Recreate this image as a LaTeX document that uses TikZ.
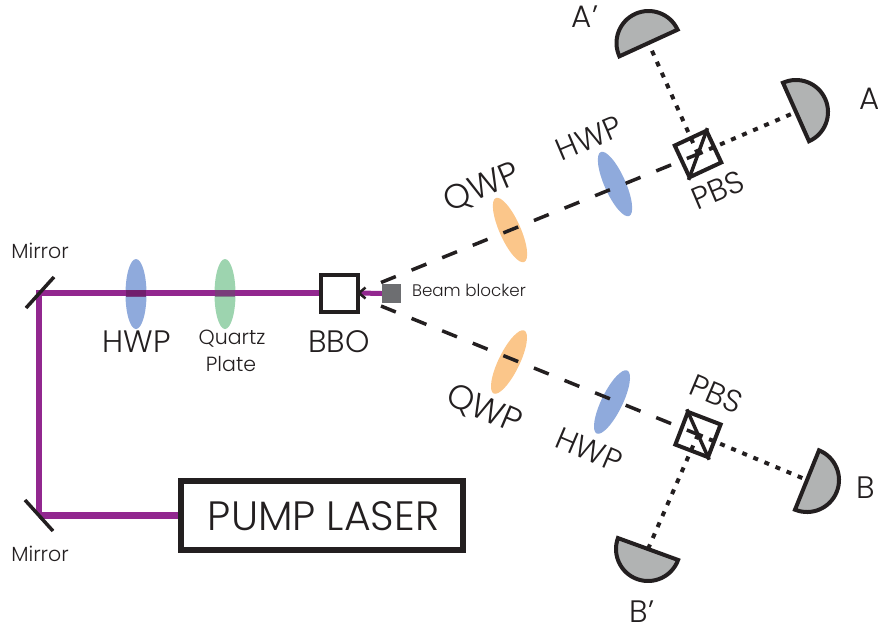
\documentclass[tikz,border=0pt]{standalone}
\usepackage{fontspec}
\setmainfont{Poppins Light}
\usetikzlibrary{shapes.geometric}
\definecolor{ink}{HTML}{231F20}
\definecolor{beam}{HTML}{92278F}
\definecolor{hwpc}{HTML}{8FAADC}
\definecolor{qzc}{HTML}{9DD4AF}
\definecolor{qwpc}{HTML}{FBC68A}
\definecolor{detc}{HTML}{B1B3B3}
\definecolor{blockc}{HTML}{6D6E71}
\tikzset{
  plate/.style={ellipse,draw=none,inner sep=0pt,minimum width=21pt,minimum height=70pt},
  purplebeam/.style={draw=beam,line width=6.5pt},
  mirrorline/.style={draw=ink,line width=3.5pt},
  dashbeam/.style={draw=ink,line width=3.5pt,dash pattern=on 16pt off 17pt},
  dotbeam/.style={draw=ink,line width=4pt,dash pattern=on 5pt off 7pt},
  opticbox/.style={draw=ink,line width=4pt,rectangle,inner sep=0pt,minimum size=35pt,fill=none},
  lbl/.style={text=ink,inner sep=0pt},
  biglbl/.style={lbl,font=\fontsize{31}{34}\selectfont},
  qwplbl/.style={lbl,font=\fontsize{34}{37}\selectfont},
  smalllbl/.style={lbl,font=\fontsize{20.5}{23}\selectfont},
  detector/.style={draw=ink,fill=detc,line width=4pt,line join=miter}
}
\newcommand{\detect}[2]{\path[detector,shift={(#1)},rotate=#2] (-32pt,0pt) arc[start angle=180,end angle=0,radius=32pt] -- cycle;}
\begin{document}
\begin{tikzpicture}[x=1pt,y=-1pt]
\useasboundingbox (0,0) rectangle (878,633);
% plates
\node[plate,fill=hwpc] (hwp0) at (136,294) {};
\node[plate,fill=qzc] (qz) at (225,294) {};
\node[plate,fill=qwpc,rotate=24] (qwpU) at (510,230) {};
\node[plate,fill=hwpc,rotate=24] (hwpU) at (615,184) {};
\node[plate,fill=qwpc,rotate=-26] (qwpL) at (509,362) {};
\node[plate,fill=hwpc,rotate=-26] (hwpL) at (612,402) {};
% named points
\coordinate (m1) at (39,293);
\coordinate (m2) at (39,514);
\coordinate (m1a) at (26,308);
\coordinate (m1b) at (54,277);
\coordinate (m2a) at (25,500);
\coordinate (m2b) at (53,531);
\node[draw=ink,line width=6pt,minimum width=282pt,minimum height=69pt,inner sep=0pt] (laser) at (322,515.5) {};
\node[opticbox,minimum size=37pt] (bbo) at (339.5,293) {};
\node[fill=blockc,minimum size=19pt,inner sep=0pt] (blocker) at (391.5,293.5) {};
\node[opticbox,rotate=25] (pbsU) at (698,154) {};
\node[opticbox,rotate=-21] (pbsL) at (698,434.5) {};
\coordinate (dU) at (381,282.5);
\coordinate (dL) at (381,306);
\coordinate (detAp) at (648.5,43);
\coordinate (detA) at (796,112);
\coordinate (detB) at (807,480);
\coordinate (detBp) at (648,549);
% pump beam
\draw[purplebeam] (laser.west) -- (m2 |- laser.west);
\draw[purplebeam] (m2) -- (m1) -- (bbo.west);
\draw[draw=beam,line width=5pt] (blocker.west) -- (bbo.east);
\fill[beam!70!black,opacity=.75] (126,290) rectangle (146,296.5);
\fill[beam!60!qzc!70!black,opacity=.6] (215,290) rectangle (235,296.5);
\draw[mirrorline] (m1a) -- (m1b);
\draw[mirrorline] (m2a) -- (m2b);
\draw[draw=ink,line width=2.5pt] (365.5,287.5) -- (359,293) -- (365.5,298.5);
\node[opticbox,minimum size=37pt] at (bbo) {};
% beams
\draw[dashbeam] (dU) -- (pbsU.center);
\draw[dashbeam] (dL) -- (pbsL.center);
\draw[dotbeam] (pbsU.center) -- (detAp);
\draw[dotbeam] (pbsU.center) -- (detA);
\draw[dotbeam] (pbsL.center) -- (detB);
\draw[dotbeam] (pbsL.center) -- (detBp);
\draw[draw=ink,line width=3.5pt] (pbsU.south west) -- (pbsU.north east);
\draw[draw=ink,line width=3.5pt] (pbsL.north west) -- (pbsL.south east);
% detectors
\detect{detAp}{24.6}
\detect{detA}{-66}
\detect{detB}{-112}
\detect{detBp}{160}
% labels
\node[smalllbl] (tm1) at (40,250.5) {Mirror};
\node[smalllbl] (tm2) at (40,554) {Mirror};
\node[biglbl] (t1) at (136.5,342) {HWP};
\node[smalllbl] (t2) at (232,339) {Quartz};
\node[smalllbl] (t3) at (231,364) {Plate};
\node[biglbl] (t4) at (339,342) {BBO};
\node[lbl,font=\fontsize{16.7}{18}\selectfont] (t5) at (469,290.5) {Beam blocker};
\node[lbl,font=\fontsize{41}{44}\selectfont] (t6) at (323.5,516) {PUMP LASER};
\node[qwplbl,rotate=23] (t7) at (482,188) {QWP};
\node[biglbl,rotate=23] (t8) at (589,138) {HWP};
\node[biglbl,rotate=23] (t9) at (718,190) {PBS};
\node[qwplbl,rotate=-23] (t10) at (484,410) {QWP};
\node[biglbl,rotate=-23] (t11) at (589,450) {HWP};
\node[biglbl,rotate=-23] (t12) at (716,394) {PBS};
\node[biglbl] (t13) at (585,17) {A’};
\node[biglbl] (t14) at (870,99) {A};
\node[biglbl] (t15) at (866,488) {B};
\node[biglbl] (t16) at (642,612) {B’};
\end{tikzpicture}
\end{document}
